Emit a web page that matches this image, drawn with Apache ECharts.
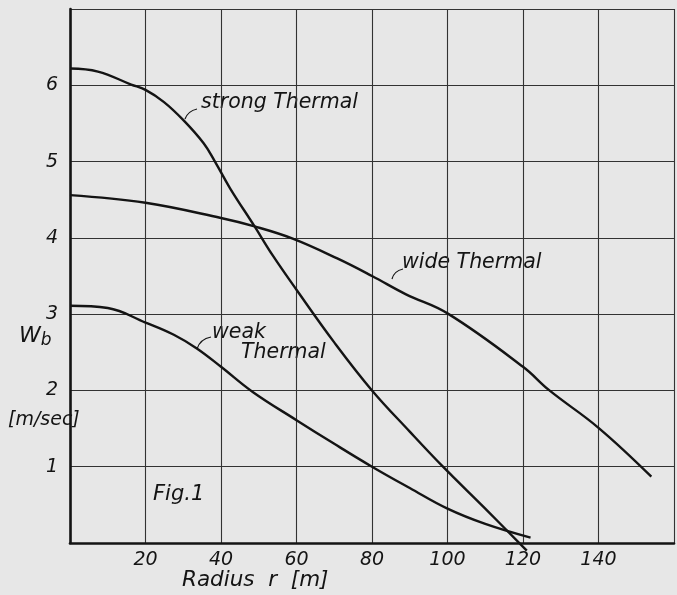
<!DOCTYPE html>
<html>
<head>
<meta charset="utf-8">
<script src="https://cdn.jsdelivr.net/npm/echarts@6/dist/echarts.min.js"></script>
<style>
  html, body { margin: 0; padding: 0; background: #e7e7e7; }
  #main { width: 677px; height: 595px; }
</style>
</head>
<body>
<div id="main"></div>
<script>
// radius r [m] and W_b [m/sec]
var strongR = [0, 7.4, 16.2, 20, 24.9, 30.1, 35.4, 38.4, 42.4, 48.9, 53.7, 60, 70, 80, 90, 98.8, 110, 121];
var strongW = [6.22, 6.18, 6.01, 5.94, 5.78, 5.54, 5.24, 5.0, 4.65, 4.15, 3.77, 3.32, 2.63, 2.0, 1.46, 1.0, 0.45, -0.1];

var wideR = [0, 20, 40, 48.9, 59, 70.8, 80, 89, 100, 120, 127, 140, 154];
var wideW = [4.56, 4.46, 4.26, 4.15, 3.99, 3.73, 3.5, 3.26, 3.01, 2.31, 2.0, 1.51, 0.87];

var weakR = [0, 10, 20, 27.5, 33.6, 40, 48.4, 60, 70, 80, 90, 100, 110, 122];
var weakW = [3.11, 3.08, 2.89, 2.73, 2.55, 2.31, 1.98, 1.61, 1.3, 1.0, 0.72, 0.45, 0.25, 0.07];

var xTicks = [20, 40, 60, 80, 100, 120, 140];
var yTicks = [1, 2, 3, 4, 5, 6];

function pairs(xs, ys) {
    var out = [];
    for (var i = 0; i < xs.length; i++) {
        out.push([xs[i], ys[i]]);
    }
    return out;
}

var FONT = '"DejaVu Sans", sans-serif';
var INK = '#141414';

var myChart = echarts.init(document.getElementById('main'));

function curve(name, xs, ys) {
    return {
        name: name,
        type: 'line',
        smooth: 0.4,
        symbol: 'none',
        clip: false,
        data: pairs(xs, ys),
        lineStyle: { color: INK, width: 2.4 }
    };
}

var option = {
    backgroundColor: '#e7e7e7',
    animation: false,
    grid: { left: 70, top: 9, right: -3, bottom: 52 },
    xAxis: {
        type: 'value',
        min: 0,
        max: 160,
        interval: 20,
        axisLine: { show: true, lineStyle: { color: INK, width: 2.6 } },
        axisTick: { show: false },
        splitLine: { show: true, lineStyle: { color: '#333', width: 1.1 } },
        axisLabel: {
            margin: 8,
            color: INK,
            fontFamily: FONT,
            fontStyle: 'italic',
            fontSize: 19,
            formatter: function (v) {
                return xTicks.indexOf(v) >= 0 ? String(v) : '';
            }
        }
    },
    yAxis: {
        type: 'value',
        min: 0,
        max: 7,
        interval: 1,
        axisLine: { show: true, lineStyle: { color: INK, width: 2.6 } },
        axisTick: { show: false },
        splitLine: { show: true, lineStyle: { color: '#333', width: 1.1 } },
        axisLabel: {
            margin: 12,
            color: INK,
            fontFamily: FONT,
            fontStyle: 'italic',
            fontSize: 19,
            formatter: function (v) {
                return yTicks.indexOf(v) >= 0 ? String(v) : '';
            }
        }
    },
    series: [
        curve('strong Thermal', strongR, strongW),
        curve('wide Thermal', wideR, wideW),
        curve('weak Thermal', weakR, weakW)
    ],
    graphic: [
        // curve labels with their little leader hooks
        { type: 'text', left: 201, top: 93, style: { text: 'strong Thermal', font: 'italic 20.5px ' + FONT, fill: INK } },
        { type: 'bezierCurve', shape: { x1: 185, y1: 119, x2: 197, y2: 109, cpx1: 188, cpy1: 111 }, style: { stroke: INK, lineWidth: 1.2, fill: null } },
        { type: 'text', left: 402, top: 253, style: { text: 'wide Thermal', font: 'italic 20.5px ' + FONT, fill: INK } },
        { type: 'bezierCurve', shape: { x1: 392, y1: 279, x2: 403, y2: 269, cpx1: 394, cpy1: 271 }, style: { stroke: INK, lineWidth: 1.2, fill: null } },
        { type: 'text', left: 212, top: 323, style: { text: 'weak', font: 'italic 20.5px ' + FONT, fill: INK } },
        { type: 'text', left: 241, top: 343, style: { text: 'Thermal', font: 'italic 20.5px ' + FONT, fill: INK } },
        { type: 'bezierCurve', shape: { x1: 197, y1: 349, x2: 211, y2: 337, cpx1: 200, cpy1: 339 }, style: { stroke: INK, lineWidth: 1.2, fill: null } },
        { type: 'text', left: 153, top: 484, style: { text: 'Fig.1', font: 'italic 21px ' + FONT, fill: INK } },
        // axis titles
        { type: 'text', left: 182, top: 569, style: { text: 'Radius  r  [m]', font: 'italic 21.5px ' + FONT, fill: INK } },
        {
            type: 'text', left: 19, top: 325,
            style: {
                text: '{w|W}{b|b}',
                rich: {
                    w: { font: 'italic 22px ' + FONT, fill: INK },
                    b: { font: 'italic 17px ' + FONT, fill: INK, padding: [10, 0, 0, 0] }
                }
            }
        },
        { type: 'text', left: 8, top: 411, style: { text: '[m/sec]', font: 'italic 19px ' + FONT, fill: INK } }
    ]
};
myChart.setOption(option);
</script>
</body>
</html>
